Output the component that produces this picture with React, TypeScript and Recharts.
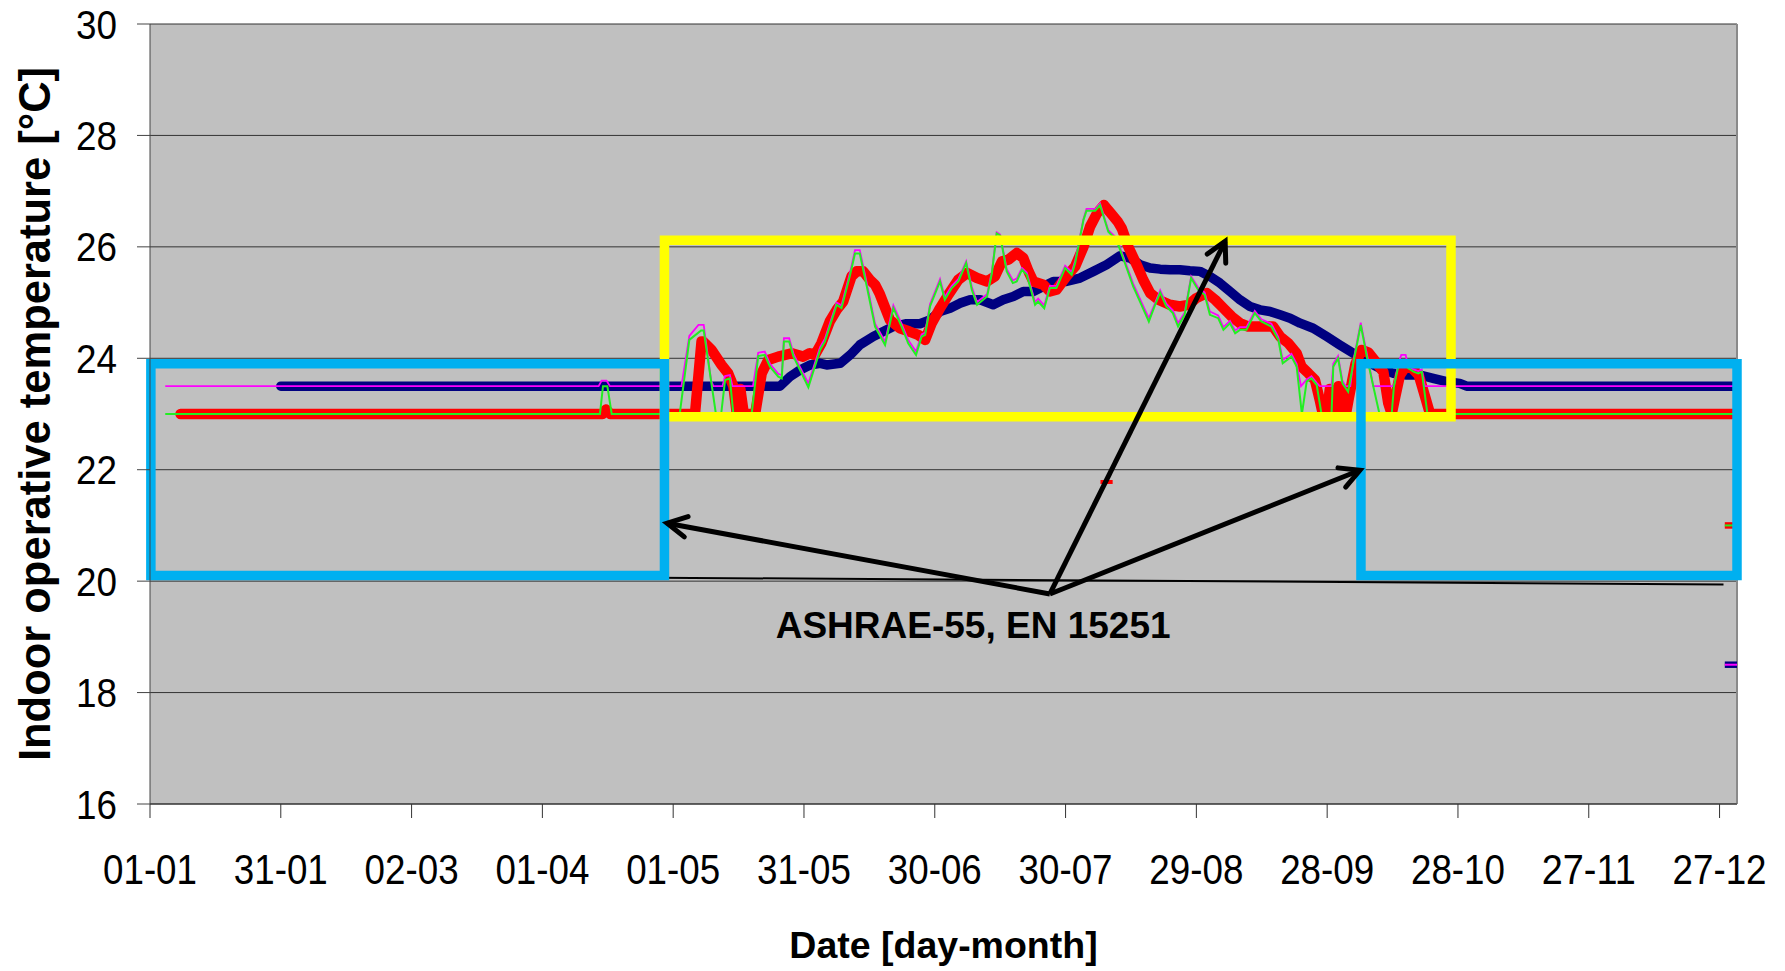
import React from "react";
import { LineChart, Line, XAxis, YAxis, CartesianGrid, ReferenceLine } from "recharts";

// day of year -> temperature [°C]
const dayTicks = [0, 30, 60, 90, 120, 150, 180, 210, 240, 270, 300, 330, 360];
const dayTickLabels = ["01-01", "31-01", "02-03", "01-04", "01-05", "31-05", "30-06", "30-07", "29-08", "28-09", "28-10", "27-11", "27-12"];
const tempTicks = [16, 18, 20, 22, 24, 26, 28, 30];

const navyMean: [number, number][] = [
  [30, 23.5], [144.5, 23.5], [146.8, 23.67], [149.1, 23.79], [151.4, 23.88], [153.7, 23.91], [155.2, 23.88],
  [158.3, 23.91], [160.6, 24.06], [162.8, 24.24], [165.9, 24.39], [168.2, 24.48], [170.5, 24.57], [173.5, 24.62],
  [176.6, 24.62], [178.9, 24.69], [181.2, 24.84], [183.5, 24.9], [185.8, 24.99], [188.1, 25.05], [190.4, 25.05],
  [193.4, 24.96], [195.7, 25.05], [198.0, 25.11], [200.3, 25.2], [202.6, 25.2], [204.9, 25.29], [207.2, 25.38],
  [210.2, 25.38], [213.3, 25.44], [216.4, 25.56], [219.4, 25.68], [222.5, 25.84], [224.8, 25.8], [227.1, 25.68],
  [229.4, 25.62], [231.7, 25.6], [234.0, 25.59], [236.2, 25.59], [238.5, 25.57], [240.8, 25.56], [243.1, 25.47],
  [245.4, 25.35], [247.7, 25.2], [250.0, 25.05], [252.3, 24.93], [254.6, 24.87], [256.9, 24.84], [259.2, 24.78],
  [261.5, 24.72], [263.8, 24.63], [266.8, 24.54], [269.9, 24.39], [272.9, 24.24], [276.0, 24.09], [279.1, 23.94],
  [282.1, 23.82], [285.2, 23.73], [288.2, 23.7], [291.3, 23.7], [294.3, 23.64], [297.4, 23.58], [300.4, 23.55],
  [302.0, 23.5], [363.3, 23.5],
];

const redMean: [number, number][] = [
  [7, 23.0], [103.8, 23.0], [104.6, 23.08], [105.6, 23.0], [125.0, 23.0], [126.5, 24.3], [126.9, 24.3],
  [128.8, 24.15], [131.1, 23.88], [132.6, 23.73], [133.8, 23.5], [134.6, 23.0], [135.4, 23.45], [136.2, 23.0],
  [138.8, 23.0], [140.3, 23.73], [141.8, 23.97], [144.1, 24.03], [147.2, 24.09], [149.8, 24.03], [151.3, 24.09],
  [152.5, 24.06], [154.0, 24.27], [155.9, 24.66], [157.5, 24.87], [159.0, 25.02], [160.9, 25.47], [162.1, 25.56],
  [163.6, 25.56], [165.1, 25.41], [166.3, 25.32], [167.4, 25.15], [169.7, 24.69], [172.0, 24.54], [174.2, 24.48],
  [176.2, 24.42], [177.8, 24.33], [179.3, 24.63], [181.2, 24.9], [183.1, 25.14], [185.4, 25.41], [187.4, 25.53],
  [189.7, 25.44], [192.0, 25.38], [193.8, 25.47], [195.4, 25.74], [196.9, 25.77], [198.8, 25.89], [200.3, 25.8],
  [201.5, 25.56], [202.6, 25.38], [204.9, 25.32], [206.4, 25.2], [207.9, 25.23], [210.2, 25.47], [212.2, 25.65],
  [214.1, 26.0], [215.6, 26.36], [217.2, 26.6], [218.8, 26.75], [220.4, 26.6], [222.0, 26.45], [222.9, 26.33],
  [224.4, 26.0], [226.3, 25.68], [227.8, 25.41], [229.4, 25.17], [231.3, 25.05], [233.9, 24.96], [236.2, 24.93],
  [238.2, 24.96], [240.0, 25.08], [242.4, 25.17], [244.3, 25.05], [246.2, 24.9], [248.1, 24.75], [250.0, 24.63],
  [251.9, 24.57], [254.6, 24.57], [257.6, 24.57], [259.2, 24.39], [261.1, 24.27], [263.0, 24.09], [264.1, 23.85],
  [265.7, 23.73], [267.2, 23.61], [268.3, 23.25], [269.0, 23.0], [270.0, 23.0], [270.6, 23.45], [271.3, 23.0],
  [272.0, 23.0], [272.6, 23.5], [273.5, 23.45], [274.3, 23.0], [275.0, 23.3], [276.5, 23.9], [277.9, 24.15],
  [279.5, 24.1], [281.0, 23.95], [282.9, 23.75], [284.0, 23.2], [284.8, 23.0], [285.6, 23.3], [286.7, 23.7],
  [288.0, 23.85], [289.5, 23.82], [291.0, 23.7], [292.5, 23.3], [293.6, 23.0], [363.3, 23.0],
];

const magentaDaily: [number, number][] = [
  [3.5, 23.5], [102.9, 23.5], [103.6, 23.6], [104.7, 23.6], [105.5, 23.5], [121.9, 23.5], [123.7, 24.4],
  [125.8, 24.6], [127.0, 24.6], [128.7, 23.6], [129.2, 23.5], [131.3, 23.5], [131.9, 23.68], [133.0, 23.7],
  [133.6, 23.5], [138.3, 23.5], [139.5, 24.1], [141.0, 24.12], [142.2, 23.9], [144.1, 23.72], [144.9, 23.7],
  [145.4, 24.36], [146.6, 24.36], [147.6, 24.08], [149.1, 23.84], [151.0, 23.55], [153.7, 24.2], [154.8, 24.35],
  [157.5, 25.0], [158.6, 24.95], [160.5, 25.52], [161.7, 25.94], [162.8, 25.94], [164.4, 25.35], [166.3, 24.62],
  [168.6, 24.3], [170.5, 24.95], [172.4, 24.62], [173.9, 24.33], [175.7, 24.12], [177.0, 24.43], [177.8, 24.46],
  [178.9, 24.97], [181.2, 25.42], [182.3, 25.1], [183.9, 25.3], [185.4, 25.42], [187.2, 25.74], [188.5, 25.28],
  [189.7, 25.01], [192.0, 25.15], [193.1, 25.56], [194.2, 26.26], [195.0, 26.22], [196.5, 25.6], [197.9, 25.4],
  [198.8, 25.43], [200.0, 25.62], [201.1, 25.54], [203.0, 25.01], [203.7, 25.07], [205.1, 24.95], [206.4, 25.3],
  [207.9, 25.3], [209.9, 25.66], [211.4, 25.55], [212.2, 25.75], [214.1, 26.5], [214.8, 26.68], [216.8, 26.68],
  [217.9, 26.78], [219.8, 26.3], [221.7, 26.16], [223.6, 25.75], [225.5, 25.34], [227.4, 25.01], [229.1, 24.72],
  [230.4, 24.97], [231.7, 25.22], [233.1, 24.98], [234.6, 24.86], [235.8, 24.63], [237.3, 24.82], [238.8, 25.47],
  [240.4, 25.27], [241.9, 25.18], [243.1, 24.84], [245.0, 24.77], [246.2, 24.56], [247.7, 24.67], [248.9, 24.5],
  [250.0, 24.56], [251.5, 24.56], [253.4, 24.85], [254.9, 24.7], [257.2, 24.62], [258.8, 24.38], [259.8, 23.97],
  [261.8, 24.08], [263.0, 23.9], [264.0, 23.5], [265.3, 23.62], [266.4, 23.68], [267.6, 23.56], [268.3, 23.5],
  [271.0, 23.5], [271.4, 23.9], [272.5, 24.04], [273.5, 23.6], [274.2, 23.5], [275.3, 23.5], [276.0, 23.95],
  [277.7, 24.64], [279.1, 24.08], [280.6, 23.5], [285.3, 23.5], [286.3, 23.9], [287.0, 24.06], [288.0, 24.06],
  [288.6, 23.86], [289.8, 23.8], [290.9, 23.77], [291.7, 23.8], [292.4, 23.5], [363.3, 23.5],
];

const greenDaily: [number, number][] = [
  [3.5, 23.0], [103.2, 23.0], [103.9, 23.5], [104.9, 23.5], [105.9, 23.0], [121.5, 23.0], [123.7, 24.33],
  [126.4, 24.5], [127.0, 24.5], [129.8, 23.0], [131.0, 23.0], [131.9, 23.61], [133.0, 23.64], [133.8, 23.0],
  [138.0, 23.0], [139.5, 24.04], [141.0, 24.06], [142.2, 23.85], [144.1, 23.67], [144.9, 23.64], [145.4, 24.3],
  [146.6, 24.3], [147.6, 24.03], [149.1, 23.79], [151.0, 23.48], [153.7, 24.15], [154.8, 24.3], [157.5, 24.96],
  [158.6, 24.9], [160.5, 25.47], [161.7, 25.88], [162.8, 25.88], [164.4, 25.29], [166.3, 24.57], [168.6, 24.24],
  [170.5, 24.9], [172.4, 24.57], [173.9, 24.27], [175.7, 24.06], [177.0, 24.39], [177.8, 24.42], [178.9, 24.93],
  [181.2, 25.38], [182.3, 25.05], [183.9, 25.26], [185.4, 25.38], [187.2, 25.71], [188.5, 25.23], [189.7, 24.96],
  [192.0, 25.11], [193.1, 25.53], [194.2, 26.24], [195.0, 26.2], [196.5, 25.56], [197.9, 25.35], [198.8, 25.38],
  [200.0, 25.59], [201.1, 25.5], [203.0, 24.96], [203.7, 25.02], [205.1, 24.9], [206.4, 25.26], [207.9, 25.26],
  [209.9, 25.62], [211.4, 25.5], [212.2, 25.71], [214.1, 26.48], [214.8, 26.65], [216.8, 26.65], [217.9, 26.75],
  [219.8, 26.27], [221.7, 26.12], [223.6, 25.71], [225.5, 25.29], [227.4, 24.96], [229.1, 24.66], [230.4, 24.93],
  [231.7, 25.18], [233.1, 24.93], [234.6, 24.81], [235.8, 24.57], [237.3, 24.78], [238.8, 25.44], [240.4, 25.23],
  [241.9, 25.14], [243.1, 24.78], [245.0, 24.72], [246.2, 24.51], [247.7, 24.63], [248.9, 24.45], [250.0, 24.51],
  [251.5, 24.51], [253.4, 24.81], [254.9, 24.66], [257.2, 24.57], [258.8, 24.33], [259.8, 23.91], [261.8, 24.03],
  [263.0, 23.85], [264.2, 23.0], [265.3, 23.58], [266.4, 23.64], [267.6, 23.52], [268.7, 23.0], [271.0, 23.0],
  [271.4, 23.85], [272.5, 24.0], [273.5, 23.55], [274.8, 23.4], [276.0, 23.91], [277.7, 24.6], [279.1, 24.03],
  [280.6, 23.49], [282.0, 23.0], [284.8, 23.0], [285.3, 23.49], [286.3, 23.85], [287.5, 23.95], [288.6, 23.82],
  [289.8, 23.76], [290.9, 23.73], [291.7, 23.76], [293.0, 23.0], [363.3, 23.0],
];

// stray points at the end of the year / mid summer
const redStray: [number, number][] = [[218.0, 21.78], [220.8, 21.78]];
const redGreenEnd: [number, number][] = [[361.2, 21.0], [363.3, 21.0]];
const navyMagentaEnd: [number, number][] = [[361.2, 18.5], [364.0, 18.5]];

// comfort bands (ASHRAE-55 / EN 15251)
const summerBand: [number, number][] = [[118.0, 22.95], [118.0, 26.12], [298.4, 26.12], [298.4, 22.95], [118.0, 22.95]];
const winterBandA: [number, number][] = [[0.2, 20.1], [0.2, 23.9], [118.0, 23.9], [118.0, 20.1], [0.2, 20.1]];
const winterBandB: [number, number][] = [[277.75, 20.1], [277.75, 23.9], [364.0, 23.9], [364.0, 20.1], [277.75, 20.1]];

// annotation: arrows start at the label and point at the bands
const arrowFrom: [number, number] = [206.4, 19.77];
const arrowTargets: [number, number][] = [[118.6, 21.04], [246.6, 26.1], [277.5, 21.99]];
const baseLine: [number, number][] = [[100, 20.07], [360.9, 19.94]];
const noteAnchor: [number, number][] = [[188.8, 18.98]];
const noteText = "ASHRAE-55, EN 15251";

const pts = (arr: [number, number][]) => arr.map(([d, v]) => ({ d, v }));

const FONT = "'Liberation Sans', Arial, Helvetica, sans-serif";

const XTick = (props: any) => {
  const { x, y, payload } = props;
  const idx = dayTicks.indexOf(payload.value);
  return (
    <text x={x} y={y + 66} textAnchor="middle" fontFamily={FONT} fontSize={42} fill="#000"
      textLength={94} lengthAdjust="spacingAndGlyphs">
      {dayTickLabels[idx] ?? ""}
    </text>
  );
};

const YTick = (props: any) => {
  const { x, y, payload } = props;
  return (
    <text x={x} y={y + 14.5} textAnchor="end" fontFamily={FONT} fontSize={40} fill="#000"
      textLength={41} lengthAdjust="spacingAndGlyphs">
      {payload.value}
    </text>
  );
};

let arrowStart = { x: 0, y: 0 };
const arrowDot = (props: any) => {
  const { cx, cy, index, points } = props;
  const key = `arrow-dot-${index}-${cx}-${cy}`;
  if (index === 0) {
    arrowStart = { x: cx, y: cy };
    return <g key={key} />;
  }
  const from = points && points.length > 1 ? points[0] : arrowStart;
  const ang = Math.atan2(cy - from.y, cx - from.x);
  const len = 22;
  const spread = (28 * Math.PI) / 180;
  const x1 = cx - len * Math.cos(ang - spread);
  const y1 = cy - len * Math.sin(ang - spread);
  const x2 = cx - len * Math.cos(ang + spread);
  const y2 = cy - len * Math.sin(ang + spread);
  return (
    <path key={key} d={`M${x1},${y1} L${cx},${cy} L${x2},${y2}`} stroke="#000" strokeWidth={5}
      fill="none" strokeLinecap="round" strokeLinejoin="miter" />
  );
};

const noteDot = (props: any) => (
  <text key="note" x={props.cx} y={props.cy} textAnchor="middle" fontFamily={FONT} fontWeight="bold"
    fontSize={37} fill="#000">
    {noteText}
  </text>
);

const series = { isAnimationActive: false, dot: false as const, activeDot: false as const, legendType: "none" as const, type: "linear" as const };

export default function App() {
  return (
    <div style={{ position: "absolute", left: 0, top: 0, background: "#fff" }}>
      <LineChart width={1785} height={971} margin={{ top: 24, right: 48, bottom: 107, left: 0 }}>
        <CartesianGrid vertical={false} fill="#C0C0C0" fillOpacity={1} stroke="#333" strokeWidth={1} />
        <XAxis
          type="number"
          dataKey="d"
          domain={[0, 364]}
          ticks={dayTicks}
          interval={0}
          height={60}
          tickSize={14}
          tickMargin={0}
          stroke="#333"
          tick={<XTick />}
          label={{
            content: (p: any) => {
              const vb = p.viewBox || { x: 150, y: 804, width: 1587 };
              return (
                <text x={vb.x + vb.width / 2} y={vb.y + 154} textAnchor="middle" fontFamily={FONT}
                  fontWeight="bold" fontSize={37.5} fill="#000">
                  Date [day-month]
                </text>
              );
            },
          }}
        />
        <YAxis
          type="number"
          dataKey="v"
          domain={[16, 30]}
          ticks={tempTicks}
          interval={0}
          width={150}
          tickSize={13}
          tickMargin={20}
          stroke="#444"
          tick={<YTick />}
          label={{
            content: (p: any) => {
              const vb = p.viewBox || { x: 0, y: 24, width: 150, height: 780 };
              const cy = vb.y + vb.height / 2;
              return (
                <text transform={`translate(50, ${cy}) rotate(-90)`} textAnchor="middle" fontFamily={FONT}
                  fontWeight="bold" fontSize={43.5} fill="#000">
                  Indoor operative temperature [°C]
                </text>
              );
            },
          }}
        />
        <ReferenceLine x={364} stroke="#8a8a8a" strokeWidth={2} />

        <Line {...series} data={pts(navyMean)} dataKey="v" stroke="#000080" strokeWidth={9.5}
          strokeLinecap="round" strokeLinejoin="round" />
        <Line {...series} data={pts(redMean)} dataKey="v" stroke="#FF0000" strokeWidth={10.5}
          strokeLinecap="round" strokeLinejoin="round" />
        <Line {...series} data={pts(magentaDaily)} dataKey="v" stroke="#FF00FF" strokeWidth={1.8} />
        <Line {...series} data={pts(greenDaily)} dataKey="v" stroke="#22EE22" strokeWidth={2} />

        <Line {...series} data={pts(redStray)} dataKey="v" stroke="#FF0000" strokeWidth={4} />
        <Line {...series} data={pts(redGreenEnd)} dataKey="v" stroke="#FF0000" strokeWidth={6.5} />
        <Line {...series} data={pts(redGreenEnd)} dataKey="v" stroke="#22EE22" strokeWidth={2} />
        <Line {...series} data={pts(navyMagentaEnd)} dataKey="v" stroke="#000080" strokeWidth={6.5} />
        <Line {...series} data={pts(navyMagentaEnd)} dataKey="v" stroke="#FF00FF" strokeWidth={2} />

        <Line {...series} data={pts(baseLine)} dataKey="v" stroke="#000" strokeWidth={2} />

        <Line {...series} data={pts(summerBand)} dataKey="v" stroke="#FFFF00" strokeWidth={9.5}
          strokeLinecap="square" strokeLinejoin="miter" />
        <Line {...series} data={pts(winterBandA)} dataKey="v" stroke="#00B0F0" strokeWidth={9.5}
          strokeLinecap="square" strokeLinejoin="miter" />
        <Line {...series} data={pts(winterBandB)} dataKey="v" stroke="#00B0F0" strokeWidth={9.5}
          strokeLinecap="square" strokeLinejoin="miter" />

        {arrowTargets.map((t, i) => (
          <Line key={`arrow-${i}`} isAnimationActive={false} activeDot={false} legendType="none" type="linear"
            data={pts([arrowFrom, t])} dataKey="v" stroke="#000" strokeWidth={5} dot={arrowDot} />
        ))}
        <Line isAnimationActive={false} activeDot={false} legendType="none" data={pts(noteAnchor)} dataKey="v"
          stroke="none" dot={noteDot} />
      </LineChart>
    </div>
  );
}
